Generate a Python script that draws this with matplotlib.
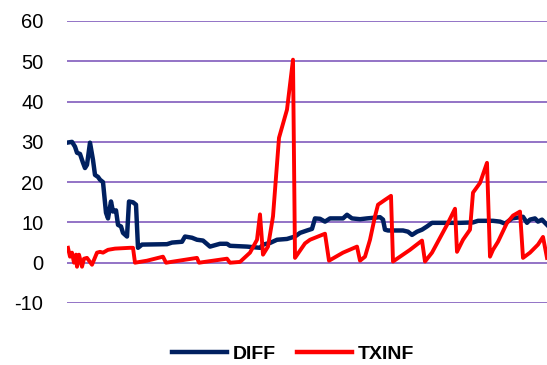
import matplotlib
matplotlib.use("Agg")
import matplotlib.pyplot as plt

# Observation index (time order) and values for each series
diff_t = [0, 5, 8, 10, 13, 16, 18, 20, 23, 26, 28, 31, 33, 36, 39, 41, 44, 46, 49, 51,
          54, 56, 60, 62, 66, 69, 71, 75, 100, 105, 115, 118, 125, 130, 136, 143, 153,
          160, 163, 180, 193, 196, 203, 210, 220, 228, 233, 240, 245, 248, 253, 258,
          263, 276, 280, 285, 293, 300, 313, 316, 318, 321, 336, 341, 345, 350, 355,
          360, 365, 376, 393, 406, 411, 426, 433, 438, 445, 456, 460, 463, 468, 471,
          475, 478, 480]
diff_v = [29.8, 30.0, 28.8, 27.3, 27.0, 24.8, 23.5, 24.3, 29.8, 25.5, 21.8, 21.3, 20.6,
          20.0, 12.4, 11.0, 15.2, 12.7, 13.0, 9.4, 9.0, 7.4, 6.5, 15.2, 15.0, 14.4, 3.7,
          4.5, 4.6, 5.0, 5.2, 6.5, 6.2, 5.7, 5.5, 4.0, 4.7, 4.7, 4.2, 4.0, 3.7, 4.5, 4.9,
          5.7, 5.9, 6.5, 7.4, 8.0, 8.4, 11.0, 10.9, 10.2, 11.0, 11.0, 11.9, 11.0, 10.8,
          11.0, 11.3, 10.7, 8.2, 8.0, 8.0, 7.7, 6.9, 7.7, 8.2, 9.0, 9.9, 9.9, 9.9, 10.0,
          10.4, 10.4, 10.2, 9.7, 11.0, 11.4, 9.9, 10.7, 11.0, 10.2, 10.7, 9.9, 9.4]

txinf_t = [1, 3, 5, 7, 9, 10, 12, 15, 17, 20, 25, 30, 33, 36, 41, 48, 63, 66, 68, 80,
           96, 99, 130, 132, 160, 163, 173, 183, 190, 193, 196, 201, 206, 212, 220, 226,
           228, 233, 238, 243, 251, 258, 262, 276, 290, 293, 298, 303, 308, 311, 318,
           324, 326, 343, 355, 358, 365, 380, 388, 390, 396, 403, 406, 413, 420, 423,
           426, 431, 440, 446, 453, 456, 463, 471, 476, 480]
txinf_v = [3.7, 1.5, 2.5, 0.0, 2.0, -1.0, 2.0, -1.0, 1.0, 1.2, -0.5, 2.5, 2.7, 2.5, 3.2,
           3.5, 3.7, 3.7, 0.0, 0.5, 1.5, 0.0, 1.2, 0.0, 1.0, 0.0, 0.2, 2.5, 5.7, 12.0,
           2.0, 4.0, 11.5, 31.0, 38.0, 50.4, 1.2, 3.0, 4.8, 5.7, 6.5, 7.2, 0.5, 2.5, 4.0,
           0.5, 1.5, 5.7, 11.5, 14.4, 15.6, 16.6, 0.3, 3.2, 5.5, 0.3, 2.5, 9.4, 13.4,
           2.7, 5.7, 8.2, 17.4, 19.8, 24.8, 1.5, 3.2, 5.2, 9.9, 11.7, 12.7, 1.2, 2.5,
           4.5, 6.4, 1.2]

series_names = ["DIFF", "TXINF"]
y_ticks = [-10, 0, 10, 20, 30, 40, 50, 60]

plt.rcParams['font.family'] = ['Liberation Sans', 'DejaVu Sans']

fig = plt.figure(figsize=(5.47, 3.65), dpi=100)
ax = fig.add_axes([67/547, 1 - 303/365, 480/547, (303 - 21)/365])

ax.plot(diff_t, diff_v, color="#002060", lw=3.2, label=series_names[0],
        solid_joinstyle="round", zorder=3)
ax.plot(txinf_t, txinf_v, color="#FF0000", lw=2.8, label=series_names[1],
        solid_joinstyle="round", zorder=4)

ax.set_xlim(0, 480)
ax.set_ylim(-10, 60)
ax.set_yticks(y_ticks)
ax.set_yticklabels([str(v) for v in y_ticks], fontsize=14.5)
ax.set_xticks([])
ax.yaxis.grid(True, color="#8a68c2", lw=1.3)
ax.set_axisbelow(True)
ax.tick_params(axis="y", length=0, pad=17)
for s in ax.spines.values():
    s.set_visible(False)

leg = fig.legend(loc="center", bbox_to_anchor=(293/547, 1 - 354/365), ncol=2,
                 frameon=False, handlelength=2.8, handletextpad=0.3,
                 columnspacing=1.1, prop={"weight": "bold", "size": 14})
for line in leg.get_lines():
    line.set_linewidth(3.2)

fig.savefig("out.png", dpi=100)
